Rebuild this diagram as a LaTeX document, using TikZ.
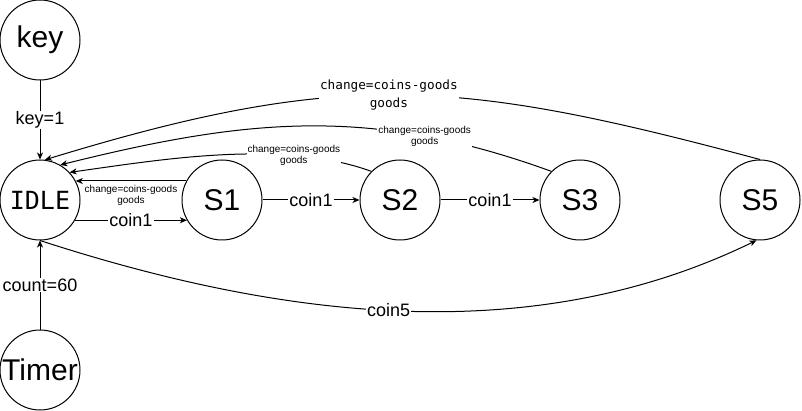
\documentclass[tikz,border=0pt]{standalone}
\usepackage{fontspec}
\setmainfont{Liberation Sans}
\newfontfamily\monofont{DejaVu Sans Mono}
\usetikzlibrary{arrows.meta,positioning}

\tikzset{
  state/.style={circle,draw,line width=1pt,minimum size=80pt,inner sep=0pt,
    font=\fontsize{30}{30}\selectfont},
  trans/.style={-{Stealth[length=7pt,width=6pt,inset=2pt]},line width=1pt},
  lbl/.style={fill=white,inner sep=1pt,font=\fontsize{18}{18}\selectfont},
  smalllbl/.style={fill=white,inner sep=1pt,align=center,
    font=\fontsize{10}{11}\selectfont},
  monolbl/.style={fill=white,inner sep=1pt,align=center,
    font=\monofont\fontsize{12.7}{18}\selectfont},
}

\begin{document}
\begin{tikzpicture}[x=1pt,y=-1pt,on grid]
    \useasboundingbox (0,0) rectangle (802,411);
    \node[state] (idle) at (40,200) {\monofont\fontsize{25}{25}\selectfont IDLE};
    \node[state,right=182pt of idle] (s1) {S1};
    \node[state,right=178pt of s1] (s2) {S2};
    \node[state,right=180pt of s2] (s3) {S3};
    \node[state,right=180pt of s3] (s5) {S5};
    \node[state,above=160pt of idle] (key) {key};
    \node[state,below=170pt of idle] (timer) {Timer};

    \draw[trans] (key) -- node[lbl] {key=1} (idle);
    \draw[trans] (timer) -- node[lbl] {count=60} (idle);
    \draw[trans] (idle.-30) -- node[lbl] {coin1} (s1.210);
    \draw[trans] (s1) -- node[lbl] {coin1} (s2);
    \draw[trans] (s2) -- node[lbl] {coin1} (s3);
    \draw[trans] (idle.south) to[out=-18,in=-154,looseness=0.9]
        node[lbl,pos=0.48] {coin5} (s5.-95);

    % change back to IDLE
    \draw[trans] (s1.152) -- node[smalllbl,below=3pt] {change=coins-goods\\goods} (idle.28);
    \draw[trans] (s2.135) to[out=160,in=8,looseness=0.8]
        node[smalllbl,pos=0.27] {change=coins-goods\\goods} (idle.43);
    \draw[trans] (s3.135) to[out=160,in=14]
        node[smalllbl,pos=0.25] {change=coins-goods\\goods} (idle.60);
    \draw[trans] (s5.north) to[out=165,in=17,looseness=1.12]
        node[monolbl,pos=0.52] {change=coins-goods\\goods} (idle.83);
\end{tikzpicture}
\end{document}
